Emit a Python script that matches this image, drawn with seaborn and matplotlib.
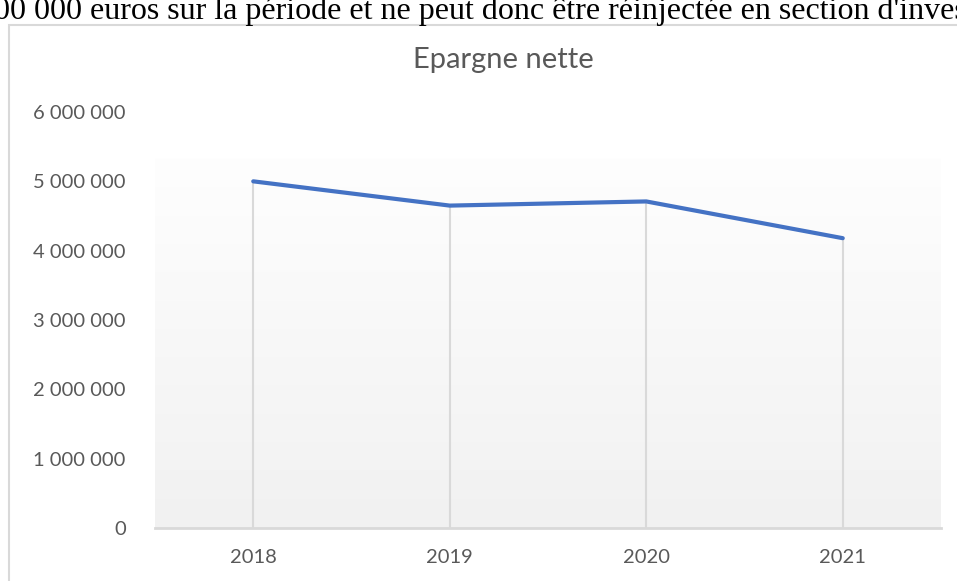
import numpy as np
import pandas as pd
import matplotlib.pyplot as plt
import seaborn as sns
from matplotlib.patches import Rectangle

# values
years = ['2018', '2019', '2020', '2021']
epargne = [5000000, 4650000, 4710000, 4180000]
y_ticks = [0, 1000000, 2000000, 3000000, 4000000, 5000000, 6000000]

df = pd.DataFrame({'Annee': years, 'Epargne nette': epargne})

sns.set_style('white')
plt.rcParams['font.family'] = ['Lato', 'DejaVu Sans']

fig = plt.figure(figsize=(9.57, 5.81), dpi=100)
W, H = 957, 581

# cut-off sentence from the page above the chart
fig.text(-0.006, 1 - 19 / H, "00 000 euros sur la période et ne peut donc être réinjectée en section d'inves",
         family=['Liberation Serif', 'DejaVu Serif'], fontsize=23, color='black', va='baseline', ha='left')

# chart frame
fig.patches.append(Rectangle((9 / W, -0.05), 1.2, 1 - 25 / H + 0.05, transform=fig.transFigure,
                             fill=False, edgecolor='#d9d9d9', lw=1.5))

ax = fig.add_axes([155 / W, 1 - 528 / H, (941 - 155) / W, (528 - 112) / H])
ax.set_facecolor('none')

# light gradient of the plot area
grad = np.linspace(0, 1, 256).reshape(-1, 1)
ax.imshow(grad, extent=(-0.5, 3.5, 0, 5330000), aspect='auto', origin='upper',
          cmap=sns.blend_palette(['#fefefe', '#f1f1f1'], as_cmap=True), zorder=0)

ax.vlines(years, 0, epargne, color='#d9d9d9', lw=1.5, zorder=1)
sns.lineplot(data=df, x='Annee', y='Epargne nette', ax=ax, color='#4472C4', lw=3, zorder=3)

ax.set_xlim(-0.5, 3.5)
ax.set_ylim(0, 6000000)
ax.set_yticks(y_ticks)
ax.set_yticklabels([f"{v:,.0f}".replace(',', ' ') for v in y_ticks])
ax.tick_params(axis='both', length=0, labelsize=14.5, colors='#595959')
ax.tick_params(axis='y', pad=21)
ax.tick_params(axis='x', pad=15)
ax.set_xlabel('')
ax.set_ylabel('')
for s in ['top', 'right', 'left']:
    ax.spines[s].set_visible(False)
ax.spines['bottom'].set_color('#d9d9d9')
ax.spines['bottom'].set_linewidth(2)

fig.text(503 / W, 1 - 60 / H, 'Epargne nette', ha='center', va='center', fontsize=21, color='#595959')

fig.savefig('out.png', dpi=100)
